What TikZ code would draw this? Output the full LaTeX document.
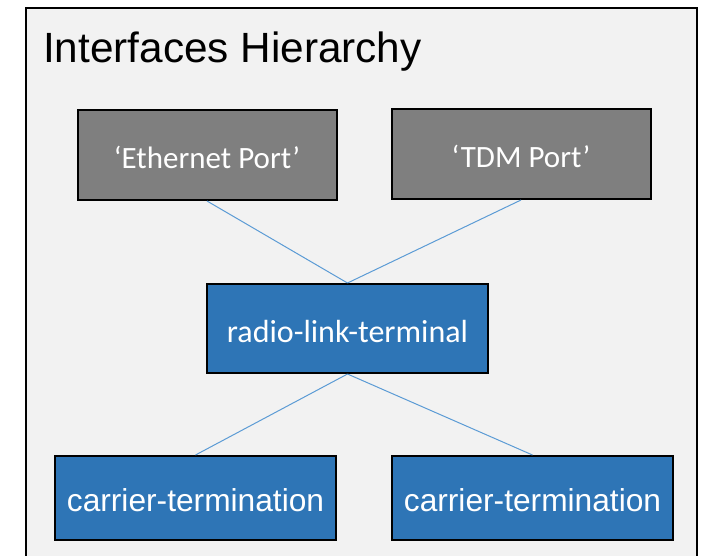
\documentclass[tikz,border=0pt]{standalone}
\usepackage{fontspec}
\setmainfont{Liberation Sans}
\newfontfamily\carlito{Carlito}
\definecolor{framefill}{HTML}{F2F2F2}
\definecolor{portgray}{HTML}{7F7F7F}
\definecolor{boxblue}{HTML}{2E75B6}
\definecolor{linkblue}{HTML}{5B9BD5}
\tikzset{
  basebox/.style={draw=black, line width=2pt, text=white, inner sep=0pt,
    text height=30pt, text depth=3pt},
  portbox/.style={basebox, fill=portgray,
    minimum width=259pt, minimum height=90pt, font=\carlito\fontsize{31}{36}\selectfont},
  rltbox/.style={basebox, fill=boxblue,
    minimum width=281pt, minimum height=89pt, font=\carlito\fontsize{32}{36}\selectfont},
  ctbox/.style={basebox, fill=boxblue,
    minimum width=281pt, minimum height=84pt, font=\fontsize{31.7}{36}\selectfont},
  conn/.style={draw=linkblue, line width=1pt}
}
\begin{document}
\begin{tikzpicture}[x=1pt,y=-1pt]
\useasboundingbox (0,0) rectangle (705,555);
\clip (0,0) rectangle (705,555);
\fill[white] (0,0) rectangle (705,555);
\draw[line width=2pt, fill=framefill] (26,8) rectangle (697,600);
\node[anchor=base west, font=\fontsize{42.3}{48}\selectfont, inner sep=0pt] (title) at (43,62) {Interfaces Hierarchy};
\node[portbox] (eth) at (207,155) {‘Ethernet Port’};
\node[portbox] (tdm) at (521,154) {‘TDM Port’};
\node[rltbox] (rlt) at (347.5,328.5) {radio-link-terminal};
\node[ctbox] (ct1) at (195.5,498) {carrier-termination};
\node[ctbox] (ct2) at (532.5,498) {carrier-termination};
\draw[conn] (eth.south) -- (rlt.north);
\draw[conn] (tdm.south) -- (rlt.north);
\draw[conn] (rlt.south) -- (ct1.north);
\draw[conn] (rlt.south) -- (ct2.north);
\end{tikzpicture}
\end{document}
